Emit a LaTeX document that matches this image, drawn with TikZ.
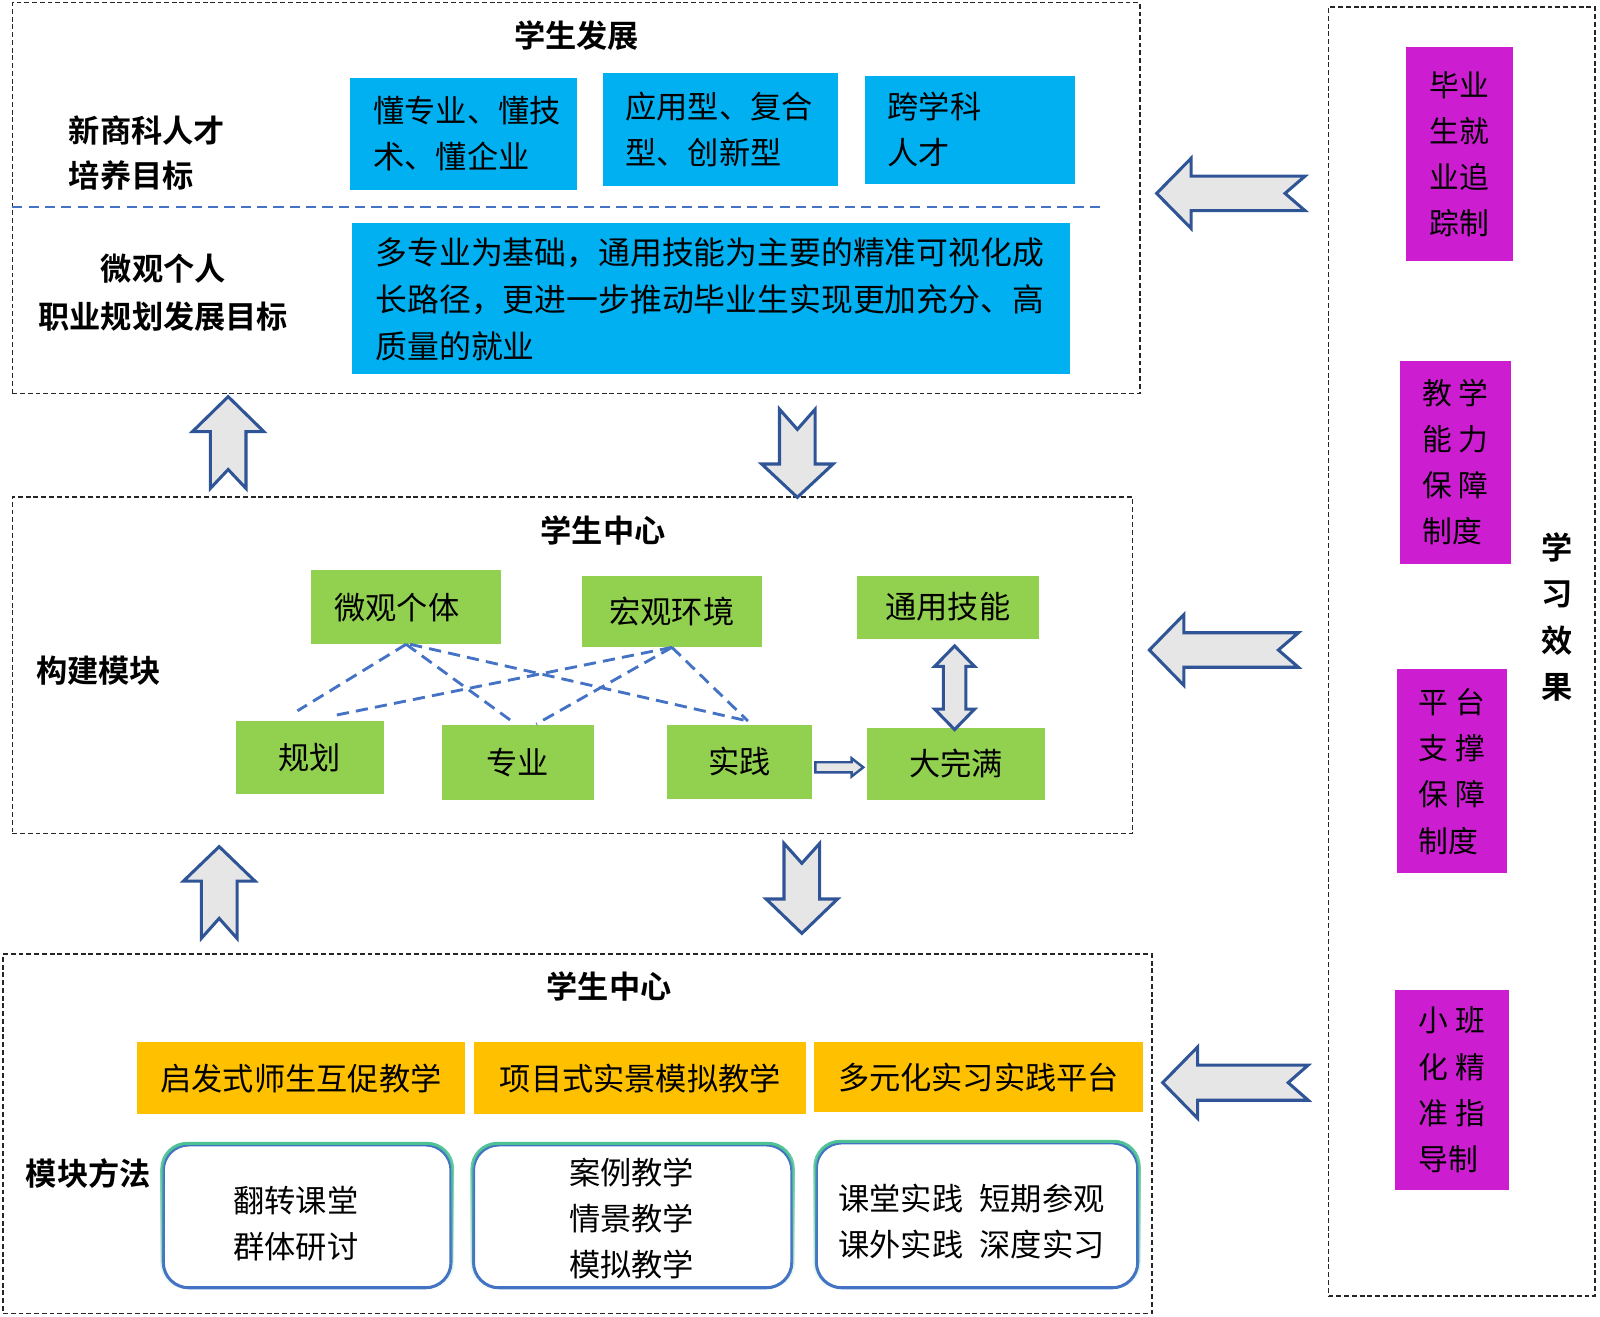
\documentclass[tikz,border=0pt]{standalone}
\usepackage{fontspec}
\setmainfont{Noto Sans CJK SC}[BoldFont={Noto Sans CJK SC Bold}]
\usetikzlibrary{fadings}
\definecolor{cblue}{HTML}{00B0F0}
\definecolor{cgreen}{HTML}{92D050}
\definecolor{corange}{HTML}{FFC000}
\definecolor{cmag}{RGB}{204,30,208}
\definecolor{cline}{HTML}{4472C4}
\definecolor{carrow}{HTML}{2F5597}
\definecolor{cfillg}{HTML}{E7E6E6}
\definecolor{cteal}{HTML}{4CC293}
\tikzfading[name=fadedown, top color=transparent!0, bottom color=transparent!100]
\begin{document}
\begin{tikzpicture}[x=0.5pt,y=-0.5pt,
  font=\fontsize{15.3pt}{22.5pt}\selectfont,
  dbox/.style={draw=black!85, line width=0.7pt, dash pattern=on 2.4pt off 1.4pt, rectangle, inner sep=0},
  fbox/.style={rectangle, inner sep=0, align=center},
  bluebox/.style={fbox, fill=cblue, align=left},
  greenbox/.style={fbox, fill=cgreen},
  orangebox/.style={fbox, fill=corange},
  magbox/.style={fbox, fill=cmag, align=left, font=\fontsize{14.6pt}{22.6pt}\selectfont},
  roundbox/.style={fbox, draw=cline, line width=1.5pt, rounded corners=12.5pt},
  ttl/.style={font=\fontsize{15.3pt}{22.7pt}\selectfont\bfseries, inner sep=0},
  lbl/.style={font=\fontsize{15.3pt}{22pt}\selectfont\bfseries, inner sep=0},
  conn/.style={cline, line width=1.4pt, dash pattern=on 6pt off 3.5pt},
  barr/.style={draw=carrow, fill=cfillg, line width=1.5pt, line join=miter},
  pics/barrow/.style n args={5}{code={
    \draw[barr] (0,0) -- (#2,#3) -- (#2,#4) -- (#1,#4) -- ({#1-#5},0) -- (#1,-#4) -- (#2,-#4) -- (#2,-#3) -- cycle;}}
]
\useasboundingbox (0,0) rectangle (1568,1290.6);

% ---------- top block ----------
\node[dbox, minimum width=552.5pt, minimum height=191.5pt] (topbox) at (564.5,194) {};
\node[ttl] (t1) at (565,35) {学生发展};
\node[lbl, anchor=west, align=left] (l1) at (67,150) {新商科人才\\培养目标};
\node[lbl, align=center, font=\fontsize{15.3pt}{23.5pt}\selectfont\bfseries] (l2) at (160,286.5) {微观个人\\职业规划发展目标};
\node[bluebox, minimum width=111pt, minimum height=55pt, text width=88pt] (B1) at (454,131) {懂专业、懂技\\术、懂企业};
\node[bluebox, minimum width=115pt, minimum height=55pt, text width=93pt] (B2) at (706,127) {应用型、复合\\型、创新型};
\node[bluebox, minimum width=103pt, minimum height=53pt, text width=80.5pt] (B3) at (950.5,127) {跨学科\\人才};
\node[bluebox, minimum width=352pt, minimum height=74pt, text width=329pt,
      font=\fontsize{15.6pt}{23pt}\selectfont] (B4) at (697,293)
  {多专业为基础，通用技能为主要的精准可视化成\\长路径，更进一步推动毕业生实现更加充分、高\\质量的就业};
\coordinate (sepL) at (12,203);
\coordinate (sepR) at (1078,203);
\draw[cline, line width=1.1pt, dash pattern=on 5pt off 3pt] (sepL) -- (sepR);

% ---------- middle block ----------
\node[dbox, minimum width=549pt, minimum height=165pt] (midbox) at (561,652) {};
\node[ttl] (t2) at (591,520) {学生中心};
\node[lbl, anchor=west] (l3) at (35,657) {构建模块};
\node[greenbox, minimum width=93pt, minimum height=36pt] (G1) at (398,595) {微观个体\hspace*{9pt}};
\node[greenbox, minimum width=88.5pt, minimum height=35pt] (G2) at (658.5,599) {宏观环境};
\node[greenbox, minimum width=89pt, minimum height=31pt] (G3) at (929,595) {通用技能};
\node[greenbox, minimum width=72.5pt, minimum height=35.5pt] (G4) at (303.5,742.5) {规划};
\node[greenbox, minimum width=74.5pt, minimum height=37pt] (G5) at (507.5,747) {专业};
\node[greenbox, minimum width=71pt, minimum height=36.5pt] (G6) at (725,746.5) {实践};
\node[greenbox, minimum width=87pt, minimum height=35.5pt] (G7) at (937,748.5) {大完满};

\draw[conn] (G1.south) -- ([xshift=-6pt,yshift=5pt]G4.north);
\draw[conn] (G1.south) -- ([xshift=-1pt]G5.north);
\draw[conn] ([xshift=2pt]G1.south) -- ([xshift=4pt,yshift=1.5pt]G6.north);
\draw[conn] (G2.south) -- ([xshift=11pt,yshift=2.5pt]G4.north);
\draw[conn] (G2.south) -- ([xshift=9pt]G5.north);
\draw[conn] (G2.south) -- ([xshift=4pt,yshift=1.5pt]G6.north);

% double arrow between G3 and G7
\draw[barr] (935.5,633) -- (955,653) -- (946.5,653) -- (946.5,695) -- (955,695) -- (935.5,715)
  -- (916,695) -- (924.5,695) -- (924.5,653) -- (916,653) -- cycle;
% small arrow G6 -> G7
\draw[barr, line width=1.2pt] (799,747) -- (834.5,747) -- (834.5,743) -- (846,752) -- (834.5,761)
  -- (834.5,757) -- (799,757) -- cycle;

% ---------- bottom block ----------
\node[dbox, minimum width=563pt, minimum height=176pt] (botbox) at (566,1111) {};
\node[ttl] (t3) at (597,967) {学生中心};
\node[lbl, anchor=west] (l4) at (25,1150) {模块方法};
\node[orangebox, minimum width=161pt, minimum height=35.5pt] (O1) at (295,1056.5) {启发式师生互促教学};
\node[orangebox, minimum width=162.5pt, minimum height=35.5pt] (O2) at (627.5,1056.5) {项目式实景模拟教学};
\node[orangebox, minimum width=161pt, minimum height=34.5pt] (O3) at (959,1055.5) {多元化实习实践平台};
\node[roundbox, minimum width=141pt, minimum height=70pt] (R1) at (301,1192) {};
\node[roundbox, minimum width=156pt, minimum height=70pt] (R2) at (620,1192) {};
\node[roundbox, minimum width=157.5pt, minimum height=71pt] (R3) at (957.5,1191) {};
\foreach \r in {R1,R2,R3}{
  \draw[cteal, line width=1.5pt, rounded corners=12.5pt, path fading=fadedown] (\r.north west) rectangle (\r.south east);
}
\node[fbox] (R1t) at (290,1199) {翻转课堂\\群体研讨};
\node[fbox] (R2t) at (619,1194.5) {案例教学\\情景教学\\模拟教学};
\node[fbox] (R3t) at (952,1197) {课堂实践\hspace{8pt}短期参观\\课外实践\hspace{8pt}深度实习};

% ---------- right column ----------
\node[dbox, minimum width=130.5pt, minimum height=631.5pt] (rbox) at (1432.5,638.5) {};
\node[magbox, minimum width=52.5pt, minimum height=105pt] (M1) at (1430.5,151) {毕业\\生就\\业追\\踪制};
\node[magbox, minimum width=54.5pt, minimum height=99.5pt] (M2) at (1426.5,453) {教 学\\能 力\\保 障\\制度};
\node[magbox, minimum width=54pt, minimum height=100pt] (M3) at (1423,756) {平 台\\支 撑\\保 障\\制度};
\node[magbox, minimum width=56pt, minimum height=98pt] (M4) at (1423,1068) {小 班\\化 精\\准 指\\导制};
\node[ttl, align=center, font=\fontsize{15.3pt}{22.8pt}\selectfont\bfseries] (rt) at (1525.5,604.5) {学\\习\\效\\果};

% ---------- block arrows ----------
\pic at (1133.5,189.5) {barrow={145.4}{33.7}{34.3}{16.9}{19.6}};
\pic at (1126.4,637) {barrow={146}{33.7}{34.6}{16.9}{19.6}};
\pic at (1139.4,1061) {barrow={142.6}{34.3}{35}{17.2}{19.6}};
\pic[rotate=-90] at (223.6,388.7) {barrow={90}{34.3}{35}{17.5}{18.6}};
\pic[rotate=90] at (781.4,487.4) {barrow={86.4}{32.7}{35}{17.5}{19.8}};
\pic[rotate=-90] at (214.8,829.7) {barrow={89.9}{33.7}{35}{17.5}{19.6}};
\pic[rotate=90] at (785.8,914.7) {barrow={88.2}{33.7}{35}{17.5}{19.5}};
\end{tikzpicture}
\end{document}
